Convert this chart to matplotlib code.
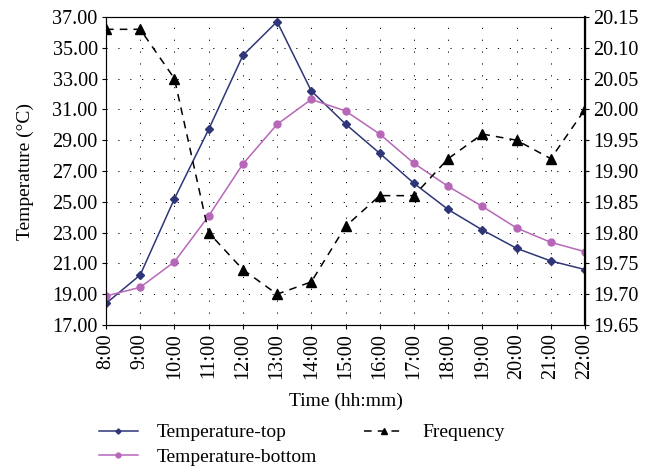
import numpy as np
import matplotlib.pyplot as plt

times = ['8:00', '9:00', '10:00', '11:00', '12:00', '13:00', '14:00', '15:00',
         '16:00', '17:00', '18:00', '19:00', '20:00', '21:00', '22:00']
temp_top = [18.4, 20.25, 25.2, 29.7, 34.5, 36.7, 32.2, 30.05,
            28.15, 26.2, 24.5, 23.17, 21.98, 21.16, 20.6]
temp_bottom = [18.88, 19.45, 21.1, 24.08, 27.45, 30.03, 31.65, 30.9,
               29.4, 27.5, 26.0, 24.7, 23.3, 22.37, 21.76]
frequency = [20.13, 20.13, 20.05, 19.80, 19.74, 19.70, 19.72, 19.81,
             19.86, 19.86, 19.92, 19.96, 19.95, 19.92, 20.00]

plt.rcParams['font.family'] = ['Liberation Serif', 'DejaVu Serif']

fig = plt.figure(figsize=(6.55, 4.68), dpi=100)
ax = fig.add_axes([106/655, 1-325/468, (585-106)/655, (325-17)/468])
ax2 = ax.twinx()

x = np.arange(len(times))
l1, = ax.plot(x, temp_top, '-', color='#2f3677', lw=1.1, marker='D', ms=3.8, label='Temperature-top')
l2, = ax.plot(x, temp_bottom, '-', color='#b767b8', lw=1.1, marker='o', ms=5, label='Temperature-bottom')
l3, = ax2.plot(x, frequency, '--', color='black', lw=1.1, dashes=(5, 4), marker='^', ms=6.5, label='Frequency')

ax.set_xlim(0, len(times) - 1)
ax.set_ylim(17, 37)
ax.set_yticks(np.arange(17, 37.1, 2))
ax.set_yticklabels(['%.2f' % v for v in np.arange(17, 37.1, 2)])
ax2.set_ylim(19.65, 20.15)
ax2.set_yticks(np.arange(19.65, 20.151, 0.05))
ax2.set_yticklabels(['%.2f' % v for v in np.arange(19.65, 20.151, 0.05)])

ax.set_xticks(x)
ax.set_xticklabels(times, rotation=90)
ax.grid(True, color='black', linestyle=(0, (1.2, 11)), lw=0.7)

ax.tick_params(axis='both', labelsize=14.5, length=3, direction='out', pad=3)
ax2.tick_params(axis='y', labelsize=14.5, length=3, direction='out', pad=3)
for s in ['left', 'bottom', 'top']:
    ax.spines[s].set_color('#444444')
ax2.spines['right'].set_linewidth(1.6)
ax2.spines['right'].set_color('black')

ax.set_ylabel('Temperature (°C)', fontsize=14, labelpad=13)
ax.set_xlabel('Time (hh:mm)', fontsize=14, labelpad=10)

fig.legend([l1, l2, l3], ['Temperature-top', 'Temperature-bottom', 'Frequency'],
           ncol=2, loc='lower left', bbox_to_anchor=(91/655, -0.012), frameon=False,
           fontsize=14, handlelength=2.0, handletextpad=1.0, labelspacing=0.35,
           columnspacing=2.4, borderaxespad=0.0, markerscale=0.7)

plt.savefig('out.png', dpi=100)
